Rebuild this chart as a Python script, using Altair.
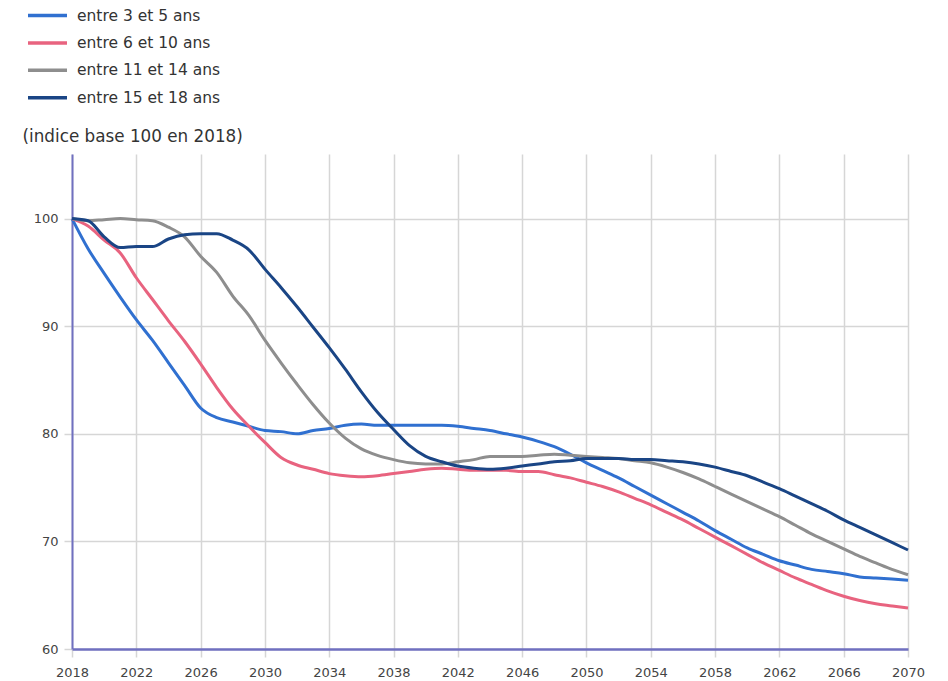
import altair as alt
import pandas as pd

years = list(range(2018, 2071))

s_3_5 = [100, 97.2, 94.9, 92.7, 90.6, 88.7, 86.6, 84.5, 82.4, 81.5,
         81.1, 80.7, 80.3, 80.2, 80.0, 80.3, 80.5, 80.8, 80.9, 80.8,
         80.8, 80.8, 80.8, 80.8, 80.7, 80.5, 80.3, 80.0, 79.7, 79.3,
         78.8, 78.1, 77.3, 76.6, 75.9, 75.1, 74.3, 73.5, 72.7, 71.9,
         71.0, 70.2, 69.4, 68.8, 68.2, 67.8, 67.4, 67.2, 67.0, 66.7,
         66.6, 66.5, 66.4]

s_6_10 = [100, 99.3, 98.0, 96.8, 94.5, 92.5, 90.5, 88.6, 86.5, 84.3,
          82.3, 80.7, 79.2, 77.8, 77.1, 76.7, 76.3, 76.1, 76.0, 76.1,
          76.3, 76.5, 76.7, 76.8, 76.7, 76.6, 76.6, 76.6, 76.5, 76.5,
          76.2, 75.9, 75.5, 75.1, 74.6, 74.0, 73.4, 72.7, 72.0, 71.2,
          70.4, 69.6, 68.8, 68.0, 67.3, 66.6, 66.0, 65.4, 64.9, 64.5,
          64.2, 64.0, 63.8]

s_11_14 = [100, 99.8, 99.9, 100.0, 99.9, 99.8, 99.2, 98.3, 96.5, 95.0,
           92.8, 91.0, 88.7, 86.6, 84.6, 82.7, 81.0, 79.6, 78.6, 78.0,
           77.6, 77.3, 77.2, 77.2, 77.4, 77.6, 77.9, 77.9, 77.9, 78.0,
           78.1, 78.0, 77.9, 77.8, 77.7, 77.5, 77.3, 76.9, 76.4, 75.8,
           75.1, 74.4, 73.7, 73.0, 72.3, 71.5, 70.7, 70.0, 69.3, 68.6,
           68.0, 67.4, 66.9]

s_15_18 = [100, 99.8, 98.3, 97.3, 97.4, 97.4, 98.1, 98.5, 98.6, 98.6,
           98.0, 97.1, 95.3, 93.6, 91.8, 89.9, 88.0, 86.0, 83.9, 82.0,
           80.4, 78.9, 77.9, 77.4, 77.0, 76.8, 76.7, 76.8, 77.0, 77.2,
           77.4, 77.5, 77.7, 77.7, 77.7, 77.6, 77.6, 77.5, 77.4, 77.2,
           76.9, 76.5, 76.1, 75.5, 74.9, 74.2, 73.5, 72.8, 72.0, 71.3,
           70.6, 69.9, 69.2]

series_names = ["entre 3 et 5 ans", "entre 6 et 10 ans",
                "entre 11 et 14 ans", "entre 15 et 18 ans"]
series_colors = ["#3070d0", "#e8637f", "#8e8e8e", "#1a4585"]
x_ticks = list(range(2018, 2071, 4))
y_ticks = [60, 70, 80, 90, 100]
y_title = "(indice base 100 en 2018)"

rows = []
for name, vals in zip(series_names, [s_3_5, s_6_10, s_11_14, s_15_18]):
    for yr, v in zip(years, vals):
        rows.append({"annee": yr, "indice": v, "serie": name})
df = pd.DataFrame(rows)

FONT = "DejaVu Sans"

chart = alt.Chart(df).mark_line(strokeWidth=3, interpolate="monotone").encode(
    x=alt.X("annee:Q",
            scale=alt.Scale(domain=[2018, 2070], nice=False, zero=False),
            axis=alt.Axis(values=x_ticks, format="d", title=None,
                          grid=True, gridColor="#d6d6d6", gridWidth=1.5,
                          domainColor="#7070c0", domainWidth=2.5,
                          tickColor="#d6d6d6", tickSize=8, tickWidth=1.5,
                          labelFontSize=13, labelColor="#444444",
                          labelFont=FONT, labelPadding=9,
                          labelFlush=False)),
    y=alt.Y("indice:Q",
            scale=alt.Scale(domain=[60, 106], nice=False, zero=False),
            axis=alt.Axis(values=y_ticks, title=y_title,
                          titleAngle=0, titleAlign="left",
                          titleBaseline="bottom", titleX=-50, titleY=-9,
                          titleFontSize=16.8, titleFont=FONT,
                          titleFontWeight="normal", titleColor="#333333",
                          grid=True, gridColor="#d6d6d6", gridWidth=1.5,
                          domainColor="#7070c0", domainWidth=2,
                          tickColor="#d6d6d6", tickSize=8, tickWidth=1.5,
                          labelFontSize=13, labelColor="#444444",
                          labelFont=FONT, labelPadding=6)),
    color=alt.Color("serie:N",
                    scale=alt.Scale(domain=series_names, range=series_colors),
                    sort=series_names,
                    legend=alt.Legend(title=None, orient="none",
                                      legendX=-36, legendY=-150,
                                      direction="vertical",
                                      symbolType="M-2,0H2",
                                      symbolSize=380,
                                      symbolStrokeWidth=3.5,
                                      labelFontSize=15.5, labelFont=FONT,
                                      labelColor="#333333",
                                      labelOffset=18,
                                      rowPadding=7.4,
                                      padding=0)),
).properties(
    width=836,
    height=495,
    autosize=alt.AutoSizeParams(type="none"),
    padding={"left": 64, "top": 146, "right": 30, "bottom": 30},
).configure_view(stroke=None)

chart.save("out.html", embed_options={"renderer": "svg", "actions": False})
